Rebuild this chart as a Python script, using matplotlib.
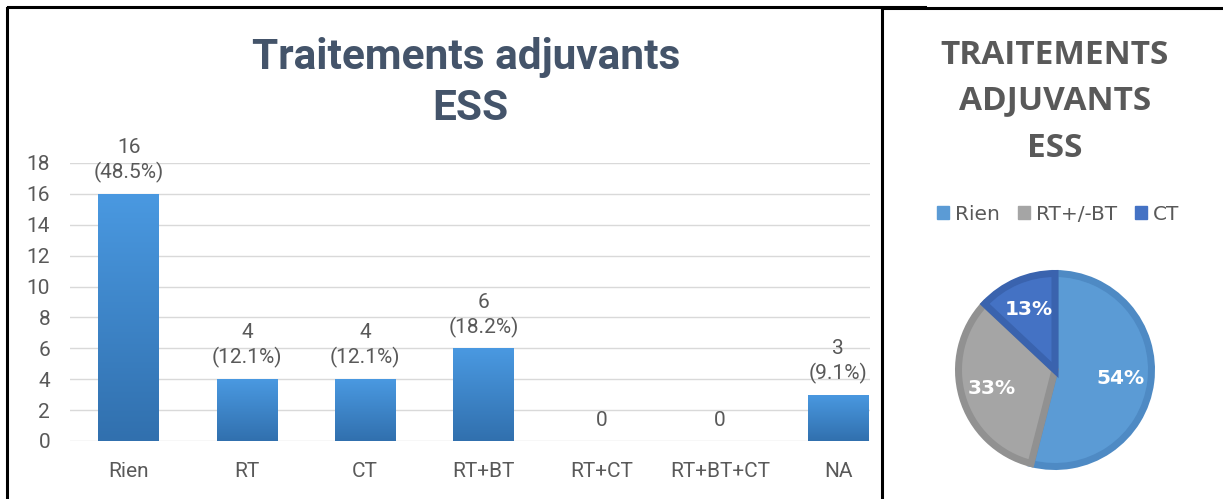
import matplotlib
matplotlib.use("Agg")
import matplotlib.pyplot as plt
import numpy as np
from matplotlib import font_manager
from matplotlib.patches import Rectangle
from matplotlib.lines import Line2D

names = {f.name for f in font_manager.fontManager.ttflist}
NARROW = "Liberation Sans Narrow" if "Liberation Sans Narrow" in names else "Roboto"

# ---- data ----
categories = ["Rien", "RT", "CT", "RT+BT", "RT+CT", "RT+BT+CT", "NA"]
counts = [16, 4, 4, 6, 0, 0, 3]
percent_labels = ["48.5%", "12.1%", "12.1%", "18.2%", None, None, "9.1%"]
yticks = [0, 2, 4, 6, 8, 10, 12, 14, 16, 18]

pie_labels = ["Rien", "RT+/-BT", "CT"]
pie_values = [54, 33, 13]

W, H = 1223, 499
fig = plt.figure(figsize=(W / 100, H / 100), dpi=100)

def fx(px):
    return px / W

def fy(py):
    return 1 - py / H

grey = "#595959"

# ---- bar chart ----
ax = fig.add_axes([fx(69.5), fy(441), fx(870 - 69.5), (441 - 163) / H])
bars = ax.bar(range(len(categories)), counts, width=0.51, color="#3F86CB", zorder=2)
grad = np.linspace(0, 1, 256).reshape(-1, 1)
cmap = matplotlib.colors.LinearSegmentedColormap.from_list("g", ["#3170AE", "#4A99E1"])
for b in bars:
    if b.get_height() <= 0:
        continue
    x0, w, h = b.get_x(), b.get_width(), b.get_height()
    im = ax.imshow(grad, extent=[x0, x0 + w, 0, h], origin="lower", cmap=cmap,
                   aspect="auto", zorder=3)
    im.set_clip_path(b)
for i, (c, p) in enumerate(zip(counts, percent_labels)):
    txt = f"{c}\n({p})" if p else f"{c}"
    ax.text(i, c + 0.7, txt, ha="center", va="bottom", color=grey,
            fontsize=15, family=NARROW, linespacing=1.3)
ax.set_xlim(-0.5, 6.27)
ax.set_ylim(0, 18)
ax.set_yticks(yticks)
ax.set_xticks(range(len(categories)))
ax.set_xticklabels(categories)
ax.tick_params(axis="both", length=0, labelsize=15, labelcolor=grey)
ax.tick_params(axis="x", pad=15)
ax.tick_params(axis="y", pad=14)
for lab in ax.get_xticklabels() + ax.get_yticklabels():
    lab.set_family(NARROW)
ax.grid(axis="y", color="#D9D9D9", linewidth=1, zorder=0)
ax.set_axisbelow(True)
for s in ax.spines.values():
    s.set_visible(False)

fig.text(fx(466), fy(57), "Traitements adjuvants", ha="center", va="center",
         fontsize=30.5, fontweight="bold", color="#44546A", family=NARROW)
fig.text(fx(470), fy(108), "ESS", ha="center", va="center",
         fontsize=30.5, fontweight="bold", color="#44546A", family=NARROW)

# ---- pie chart ----
pax = fig.add_axes([fx(955), fy(470), fx(200), 200 / H])
faces = ["#5B9BD5", "#A5A5A5", "#4472C4"]
edges = ["#4E8AC4", "#919191", "#3A63AE"]
lw_px = 7
r_in = 1 - (lw_px / 2) / 100
wedges, texts, autotexts = pax.pie(pie_values, colors=faces, startangle=90, counterclock=False,
                                   radius=r_in, autopct="%d%%", pctdistance=0.68,
                                   wedgeprops=dict(linewidth=lw_px * 0.72, joinstyle="miter"),
                                   textprops=dict(color="white", fontsize=14.5, fontweight="bold"))
for w, e in zip(wedges, edges):
    w.set_edgecolor(e)
pax.set_xlim(-1, 1)
pax.set_ylim(-1, 1)
pax.set_aspect("equal")
pax.axis("off")

for t, yy in zip(["TRAITEMENTS", "ADJUVANTS", "ESS"], [55, 101, 148]):
    fig.text(fx(1055), fy(yy), t, ha="center", va="center", fontsize=24,
             fontweight="bold", color=grey, family="Open Sans")

handles = [Rectangle((0, 0), 1, 1, color=c) for c in faces]
fig.legend(handles, pie_labels, loc="center", bbox_to_anchor=(fx(1058), fy(214)),
           ncol=3, frameon=False, fontsize=14.5, labelcolor=grey, handlelength=0.6,
           handleheight=0.6, handletextpad=0.3, columnspacing=0.9)

# ---- panel borders ----
lines = [
    ((7, 7), (8, 499)),
    ((882, 882), (8, 499)),
    ((8, 925), (7, 7)),
    ((882, 1223), (8, 8)),
]
for xs, ys in lines:
    fig.add_artist(Line2D([fx(x) for x in xs], [fy(y) for y in ys], color="black",
                          linewidth=2.2, transform=fig.transFigure))

fig.savefig("out.png", dpi=100)
